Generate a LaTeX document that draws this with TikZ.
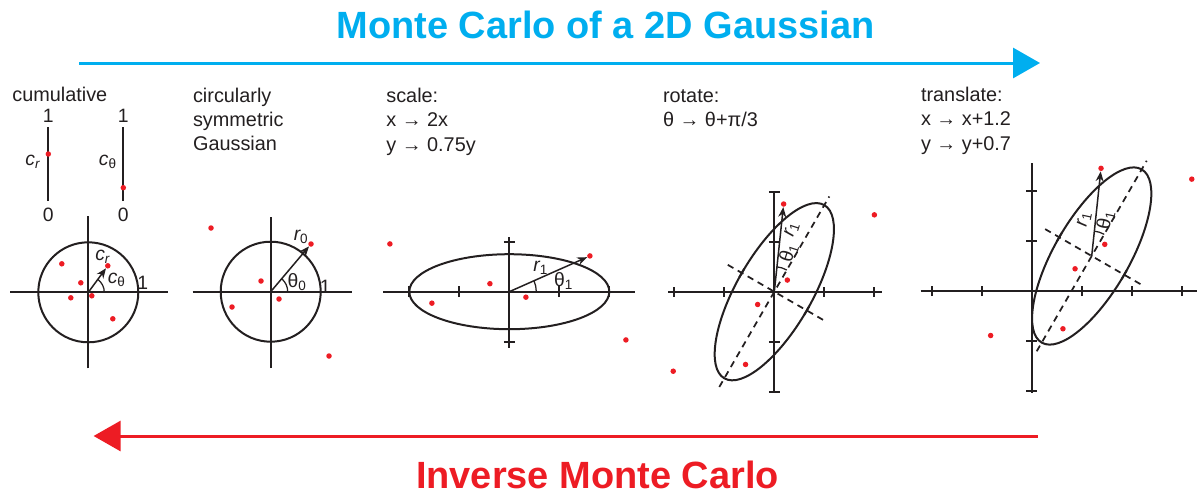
\documentclass[tikz,border=0pt]{standalone}
\usepackage{fontspec}
\setmainfont{Liberation Sans}
\usepackage{xcolor}
\usepackage{tikz}
\usetikzlibrary{arrows.meta}
\definecolor{forward}{RGB}{0,174,239}
\definecolor{inverse}{RGB}{237,28,36}
\definecolor{ink}{RGB}{35,31,32}

\begin{document}
\begin{tikzpicture}[x=0.2mm, y=-0.2mm,
  caption/.style={anchor=base west, align=left, inner sep=0pt, text=ink,
    font=\fontsize{11.3}{13.7}\selectfont},
  heading/.style={anchor=base, inner sep=0pt, font=\fontsize{21.6}{26}\selectfont\bfseries},
  sym/.style={inner sep=0pt, text=ink, font=\fontsize{11}{12}\selectfont},
  axisline/.style={draw=ink, line width=0.4mm},
  curve/.style={draw=ink, line width=0.4mm},
  guide/.style={draw=ink, line width=0.35mm, dash pattern=on 1.3mm off 1mm},
  vec/.style={draw=ink, line width=0.3mm, -{Stealth[length=2mm, width=1.6mm]}},
  angle/.style={draw=ink, line width=0.25mm},
  sampledot/.style={circle, fill=inverse, inner sep=0pt, minimum size=1.1mm},
  flow/.style={line width=0.6mm, -{Triangle[length=5.4mm, width=6mm]}}
]
\useasboundingbox (0,0) rectangle (1197,494);

% Direction of the two procedures.
\node[heading, text=forward] (mctitle) at (605.5,38.5) {Monte Carlo of a 2D Gaussian};
\coordinate (mcstart) at (79,63);
\coordinate (mcend) at (1040,63);
\draw[flow, draw=forward] (mcstart) -- (mcend);

\node[heading, text=inverse] (imctitle) at (597.5,488) {Inverse Monte Carlo};
\coordinate (imcstart) at (1037.6,436);
\coordinate (imcend) at (93.6,436);
\draw[flow, draw=inverse] (imcstart) -- (imcend);

% Step 1: cumulative values.
\node[caption] (cumtext) at (12,101.5) {cumulative};
\coordinate (crtop) at (48.3,127);
\coordinate (crbot) at (48.3,201);
\draw[axisline] (crbot) -- (crtop);
\node[sym] (crone) at (48.3,116) {1};
\node[sym] (crzero) at (48.3,215) {0};
\node[sampledot] (crval) at (48.3,154) {};
\node[sym] (crlab) at (33,162) {{\itshape c}\textsubscript{\itshape r}};
\coordinate (cttop) at (123.3,127);
\coordinate (ctbot) at (123.3,201);
\draw[axisline] (ctbot) -- (cttop);
\node[sym] (ctone) at (123.3,116) {1};
\node[sym] (ctzero) at (123.3,215) {0};
\node[sampledot] (ctval) at (123.3,187.7) {};
\node[sym] (ctlab) at (108,162) {{\itshape c}\textsubscript{θ}};

\begin{scope}[shift={(88.3,292.3)}, x=10mm, y=10mm]
  \draw[axisline] (-1.56,0) -- (1.6,0);
  \draw[axisline] (0,-1.52) -- (0,1.53);
  \draw[curve] (0,0) circle (1);
  \coordinate (cumo) at (0,0);
  \node[sampledot] (cum1) at (0.39,0.53) {};
  \node[sampledot] (cum2) at (-0.53,0.57) {};
  \node[sampledot] (cum3) at (-0.15,0.19) {};
  \node[sampledot] (cum4) at (-0.35,-0.11) {};
  \node[sampledot] (cum5) at (0.07,-0.07) {};
  \node[sampledot] (cum6) at (0.49,-0.53) {};
  \draw[vec] (cumo) -- (cum1);
  \draw[angle] (0.32,0) arc (0:53.6:0.32);
  \node[sym] (cumr) at (0.29,0.71) {{\itshape c}\textsubscript{\itshape r}};
  \node[sym] (cumt) at (0.57,0.25) {{\itshape c}\textsubscript{θ}};
  \node[sym] (cumone) at (1.09,0.18) {1};
\end{scope}

% Step 2: circularly symmetric Gaussian.
\node[caption] (symtext) at (192.7,150.7) {circularly\\symmetric\\Gaussian};
\begin{scope}[shift={(270.7,291.7)}, x=10mm, y=10mm]
  \draw[axisline] (-1.56,0) -- (1.62,0);
  \draw[axisline] (0,-1.53) -- (0,1.49);
  \draw[curve] (0,0) circle (1);
  \coordinate (symo) at (0,0);
  \node[sampledot] (sym1) at (0.806,0.954) {};
  \node[sampledot] (sym2) at (-1.194,1.274) {};
  \node[sampledot] (sym3) at (-0.194,0.214) {};
  \node[sampledot] (sym4) at (-0.774,-0.306) {};
  \node[sampledot] (sym5) at (0.166,-0.146) {};
  \node[sampledot] (sym6) at (1.166,-1.286) {};
  \draw[vec] (symo) -- (sym1);
  \draw[angle] (0.34,0) arc (0:49.8:0.34);
  \node[sym] (symr) at (0.61,1.10) {{\itshape r}\textsubscript{0}};
  \node[sym] (symt) at (0.53,0.19) {θ\textsubscript{0}};
  \node[sym] (symone) at (1.09,0.10) {1};
\end{scope}

% Step 3: scale.
\node[caption] (scltext) at (386,151) {scale:\\x → 2x\\y → 0.75y};
\begin{scope}[shift={(509.3,291.7)}, x=10mm, y=10mm]
  \draw[axisline] (-2.52,0) -- (2.52,0);
  \draw[axisline] (0,-1.12) -- (0,1.09);
  \foreach \t in {-2,-1,1,2} \draw[axisline] (\t,-0.11) -- (\t,0.11);
  \foreach \t in {-1,1} \draw[axisline] (-0.11,\t) -- (0.11,\t);
  \draw[angle] (0.54,0) arc (0:24.4:0.54);
  \node[sym] (sclr) at (0.63,0.47) {{\itshape r}\textsubscript{1}};
  \node[sym] (sclt) at (1.09,0.21) {θ\textsubscript{1}};
\end{scope}
\begin{scope}[shift={(509.3,291.7)}, x=20mm, y=7.5mm]
  \draw[curve] (0,0) circle (1);
  \coordinate (sclo) at (0,0);
  \node[sampledot] (scl1) at (0.806,0.954) {};
  \node[sampledot] (scl2) at (-1.194,1.274) {};
  \node[sampledot] (scl3) at (-0.194,0.214) {};
  \node[sampledot] (scl4) at (-0.774,-0.306) {};
  \node[sampledot] (scl5) at (0.166,-0.146) {};
  \node[sampledot] (scl6) at (1.166,-1.286) {};
  \draw[vec] (sclo) -- (scl1);
\end{scope}

% Step 4: rotate.
\node[caption] (rottext) at (662.7,126.7) {rotate:\\θ → θ+π/3};
\begin{scope}[shift={(774.3,291.7)}, x=10mm, y=10mm]
  \draw[axisline] (-2.12,0) -- (2.16,0);
  \draw[axisline] (0,-2) -- (0,2);
  \foreach \t in {-2,-1,1,2} \draw[axisline] (\t,-0.1) -- (\t,0.1);
  \foreach \t in {-2,-1,1,2} \draw[axisline] (-0.11,\t) -- (0.11,\t);
  \draw[angle] (60:0.5) arc (60:84:0.5);
  \node[sym, rotate=72] (rotr) at (0.35,1.25) {{\itshape r}\textsubscript{1}};
  \node[sym, rotate=72] (rott) at (0.29,0.78) {θ\textsubscript{1}};
\end{scope}
\begin{scope}[shift={(774.3,291.7)}, x={(60:20mm)}, y={(150:7.5mm)}]
  \draw[guide] (-1.1,0) -- (1.1,0);
  \draw[guide] (0,-1.5) -- (0,1.5);
  \draw[axisline] (-0.05,1) -- (0.05,1);
  \draw[axisline] (-0.05,-1) -- (0.05,-1);
  \draw[curve] (0,0) circle (1);
  \coordinate (roto) at (0,0);
  \node[sampledot] (rot1) at (0.806,0.954) {};
  \node[sampledot] (rot2) at (-1.194,1.274) {};
  \node[sampledot] (rot3) at (-0.194,0.214) {};
  \node[sampledot] (rot4) at (-0.774,-0.306) {};
  \node[sampledot] (rot5) at (0.166,-0.146) {};
  \node[sampledot] (rot6) at (1.166,-1.286) {};
  \draw[vec] (roto) -- (rot1);
\end{scope}

% Step 5: translate.
\node[caption] (trntext) at (920.7,150) {translate:\\x → x+1.2\\y → y+0.7};
\begin{scope}[shift={(1031.7,291)}, x=10mm, y=10mm]
  \draw[axisline] (-2.22,0) -- (3.32,0);
  \draw[axisline] (0,-2.03) -- (0,2.57);
  \foreach \t in {-2,-1,1,2,3} \draw[axisline] (\t,-0.1) -- (\t,0.1);
  \foreach \t in {-2,-1,1,2} \draw[axisline] (-0.11,\t) -- (0.11,\t);
\end{scope}
\begin{scope}[shift={(1091.7,256)}, x=10mm, y=10mm]
  \draw[angle] (60:0.5) arc (60:84:0.5);
  \node[sym, rotate=78] (trnr) at (-0.15,0.74) {{\itshape r}\textsubscript{1}};
  \node[sym, rotate=78] (trnt) at (0.28,0.72) {θ\textsubscript{1}};
\end{scope}
\begin{scope}[shift={(1091.7,256)}, x={(60:20mm)}, y={(150:7.5mm)}]
  \draw[guide] (-1.1,0) -- (1.1,0);
  \draw[guide] (0,-1.5) -- (0,1.5);
  \draw[axisline] (-0.05,1) -- (0.05,1);
  \draw[axisline] (-0.05,-1) -- (0.05,-1);
  \draw[curve] (0,0) circle (1);
  \coordinate (trno) at (0,0);
  \node[sampledot] (trn1) at (0.806,0.954) {};
  \node[sampledot] (trn2) at (-1.194,1.274) {};
  \node[sampledot] (trn3) at (-0.194,0.214) {};
  \node[sampledot] (trn4) at (-0.774,-0.306) {};
  \node[sampledot] (trn5) at (0.166,-0.146) {};
  \node[sampledot] (trn6) at (1.166,-1.286) {};
  \draw[vec] (trno) -- (trn1);
\end{scope}

\end{tikzpicture}
\end{document}
